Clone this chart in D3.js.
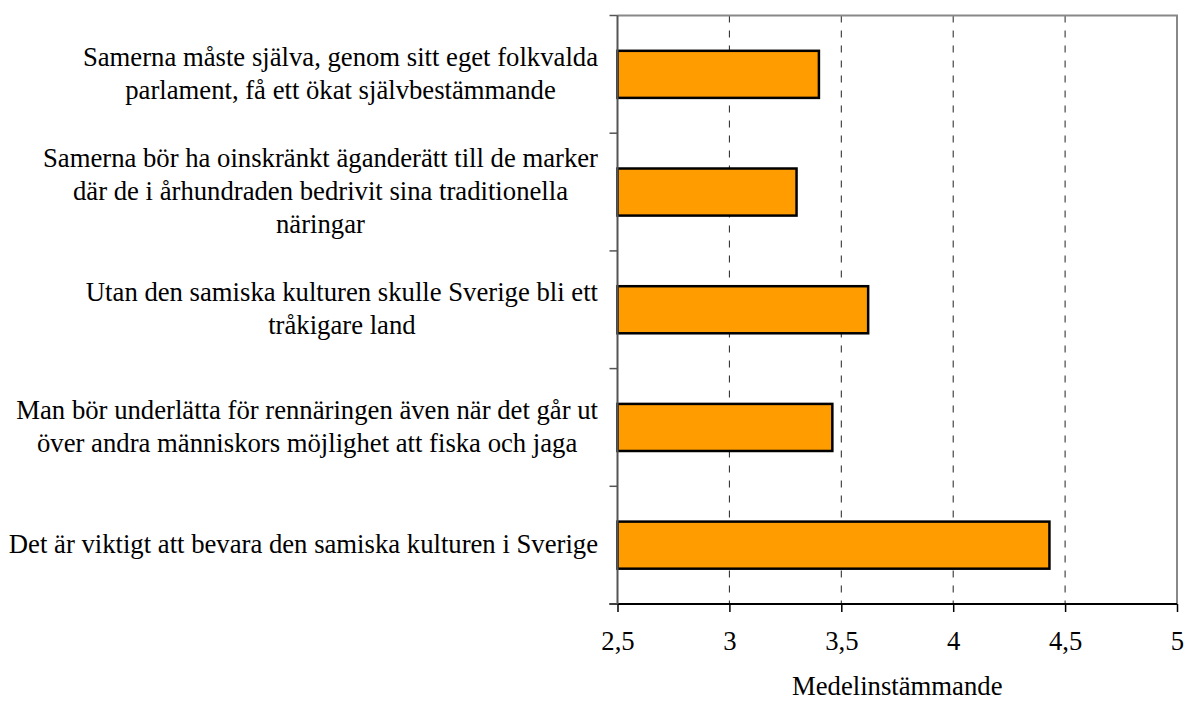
<!DOCTYPE html>
<html>
<head>
<meta charset="utf-8">
<script src="https://cdn.jsdelivr.net/npm/d3@7"></script>
<style>
  body { margin: 0; background: #fff; }
</style>
</head>
<body>
<svg id="chart" width="1185" height="702"></svg>
<script>
// data
const statements = [
  ['Samerna måste själva, genom sitt eget folkvalda', 'parlament, få ett ökat självbestämmande'],
  ['Samerna bör ha oinskränkt äganderätt till de marker', 'där de i århundraden bedrivit sina traditionella', 'näringar'],
  ['Utan den samiska kulturen skulle Sverige bli ett', 'tråkigare land'],
  ['Man bör underlätta för rennäringen även när det går ut', 'över andra människors möjlighet att fiska och jaga'],
  ['Det är viktigt att bevara den samiska kulturen i Sverige']
]
const values = [3.40, 3.30, 3.62, 3.46, 4.43]
const xTicks = [2.5, 3, 3.5, 4, 4.5, 5]
const xTitle = 'Medelinstämmande'

const margin = { top: 15.5, left: 617.5, right: 8, bottom: 98 }
const width = 1185 - margin.left - margin.right
const height = 702 - margin.top - margin.bottom
const serif = "'Liberation Serif', 'Tinos', 'Times New Roman', 'DejaVu Serif'"
const fontSize = 26.7

const svg = d3.select('#chart')
  .append('g')
  .attr('transform', 'translate(' + margin.left + ',' + margin.top + ')')

/// scales ////
const xScale = d3.scaleLinear().domain([2.5, 5]).range([0, width])
const yScale = d3.scaleBand()
  .domain(d3.range(values.length))
  .range([0, height])
  .paddingInner(0.6)
  .paddingOuter(0.3)

const numFormat = d => String(d).replace('.', ',')

// gridlines
svg.append('g')
  .selectAll('line')
  .data(xTicks.filter(d => d > 2.5 && d < 5))
  .enter()
  .append('line')
  .attr('x1', d => xScale(d))
  .attr('x2', d => xScale(d))
  .attr('y1', 0)
  .attr('y2', height)
  .attr('stroke', '#222')
  .attr('stroke-width', 1)
  .attr('stroke-dasharray', '7,8')

// frame: top and right in gray
svg.append('path')
  .attr('d', `M0,0H${width}V${height}`)
  .attr('fill', 'none')
  .attr('stroke', '#888')
  .attr('stroke-width', 2)

// bars
svg.append('g')
  .selectAll('rect')
  .data(values)
  .enter()
  .append('rect')
  .attr('x', xScale(2.5))
  .attr('y', (d, i) => yScale(i))
  .attr('width', d => xScale(d) - xScale(2.5))
  .attr('height', yScale.bandwidth())
  .attr('fill', '#ff9c00')
  .attr('stroke', '#000')
  .attr('stroke-width', 2.5)

// x axis
const xAxis = svg.append('g')
  .attr('class', 'x-axis')
  .attr('transform', 'translate(0,' + height + ')')
  .call(d3.axisBottom(xScale).tickValues(xTicks).tickFormat(numFormat).tickSize(8).tickPadding(19))
xAxis.attr('font-family', serif).attr('font-size', fontSize)
xAxis.select('.domain').attr('stroke', '#000').attr('stroke-width', 2).attr('d', `M-8,0H${width}`)
xAxis.selectAll('.tick line').attr('stroke', '#000').attr('stroke-width', 1.5)
xAxis.selectAll('text').attr('fill', '#000')

// y axis: line plus ticks at band boundaries
const step = yScale.step()
const bounds = d3.range(values.length + 1).map(i => i * step)
const yAxis = svg.append('g').attr('class', 'y-axis')
yAxis.append('line')
  .attr('x1', 0).attr('x2', 0)
  .attr('y1', 0).attr('y2', height)
  .attr('stroke', '#555')
  .attr('stroke-width', 2)
yAxis.selectAll('.ytick')
  .data(bounds)
  .enter()
  .append('line')
  .attr('class', 'ytick')
  .attr('x1', -8).attr('x2', 0)
  .attr('y1', d => d).attr('y2', d => d)
  .attr('stroke', '#555')
  .attr('stroke-width', 1.5)

// category labels: lines centred, block right aligned
const lineHeight = 33
statements.forEach((lines, i) => {
  const t = svg.append('text')
    .attr('font-family', serif)
    .attr('font-size', fontSize)
    .attr('fill', '#000')
    .attr('text-anchor', 'middle')
  const cy = yScale(i) + yScale.bandwidth() / 2
  const y0 = cy - (lines.length - 1) * lineHeight / 2
  lines.forEach((l, j) => {
    t.append('tspan')
      .attr('x', 0)
      .attr('y', y0 + j * lineHeight + 8)
      .text(l)
  })
  const maxW = d3.max(t.selectAll('tspan').nodes(), n => n.getComputedTextLength())
  t.selectAll('tspan').attr('x', -19.5 - maxW / 2)
})

// axis title
svg.append('text')
  .attr('x', xScale(3.75))
  .attr('y', height + 91)
  .attr('text-anchor', 'middle')
  .attr('font-family', serif)
  .attr('font-size', fontSize)
  .attr('fill', '#000')
  .text(xTitle)
</script>
</body>
</html>
